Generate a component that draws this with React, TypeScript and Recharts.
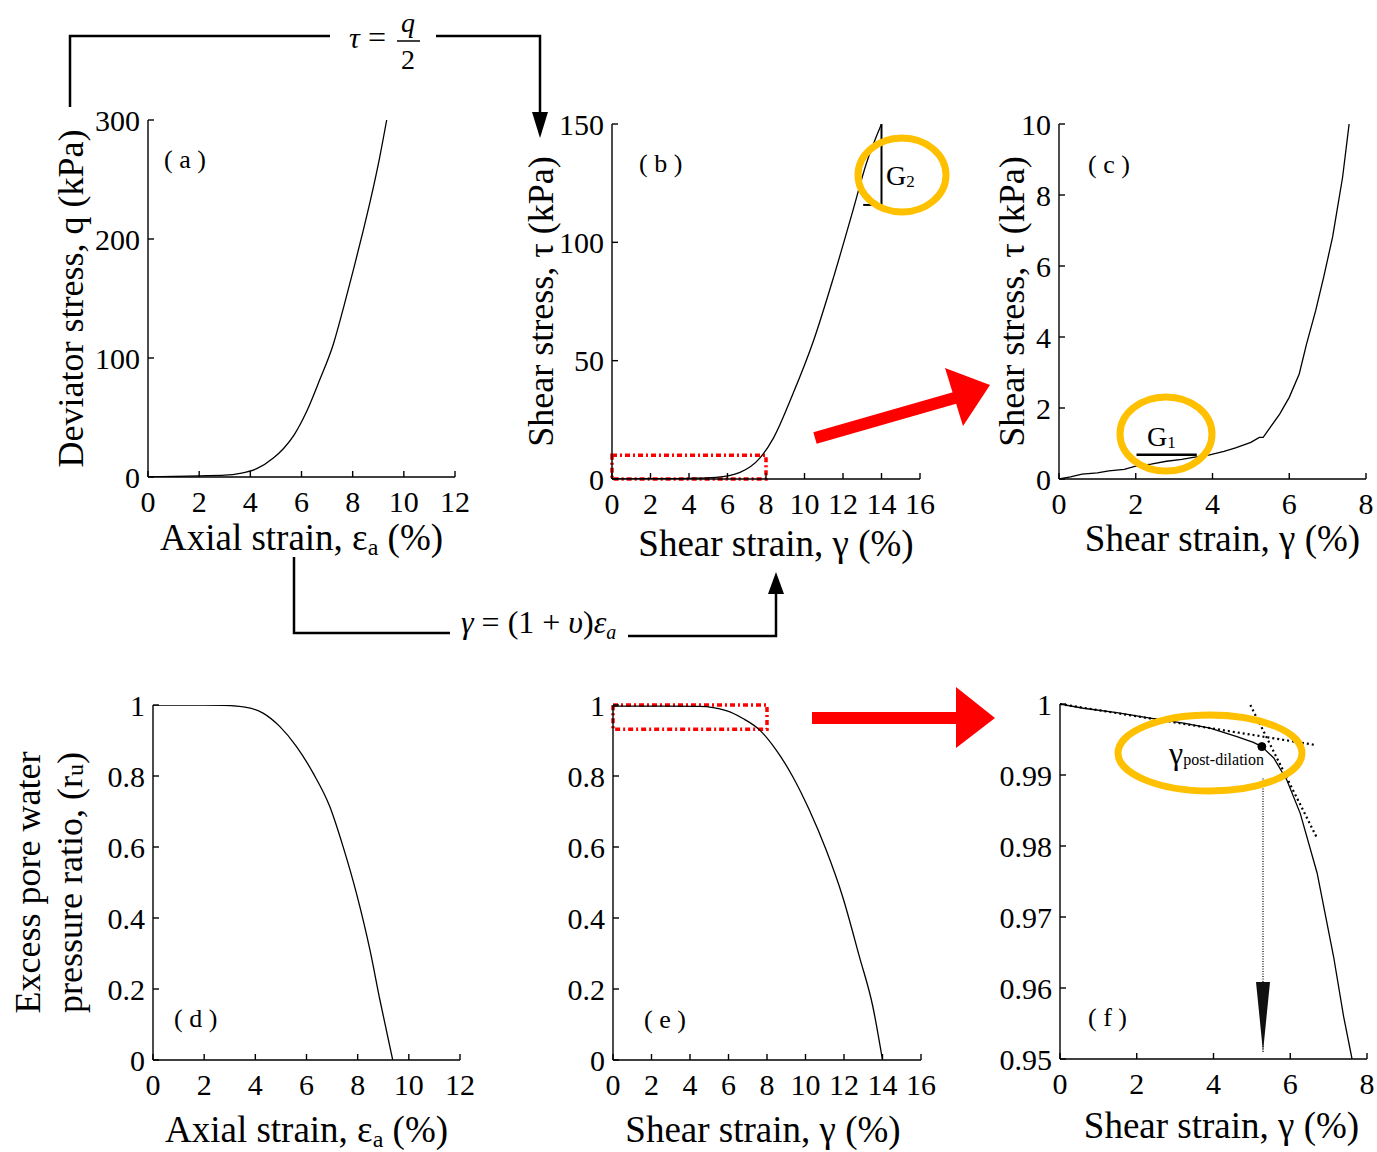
import React from "react";
import {
  Line,
  LineChart,
  ReferenceArea,
  ReferenceDot,
  ReferenceLine,
  XAxis,
  YAxis,
} from "recharts";

const SERIF = '"Liberation Serif", "Times New Roman", Times, serif';

// (a) deviator stress vs axial strain
const axialStrainA = [0, 1, 2, 3, 3.6, 4.25, 4.9, 5.3, 5.7, 6.2, 6.7, 7.25, 7.65, 8.05, 8.4, 8.7, 9.05, 9.33];
const deviatorStressA = [0, 0.5, 1, 1.5, 3, 7, 16, 24, 35, 55, 81, 112, 143, 176, 206, 233, 268, 300];

// (b) shear stress vs shear strain
const shearStrainB = [0, 2, 4, 5.4, 6.65, 7.7, 8.4, 9.4, 10.45, 11.5, 12.5, 13.2, 14];
const shearStressB = [0, 0.1, 0.3, 0.7, 2.8, 9, 17.5, 36, 58, 85, 113, 133, 150];

// (c) zoom of the start of (b)
const shearStrainC = [0, 0.3, 0.6, 1.0, 1.3, 1.7, 2.0, 2.4, 2.8, 3.2, 3.5, 3.9, 4.3, 4.6, 5.0, 5.22, 5.32, 5.5, 5.75, 6.0, 6.26, 6.45, 6.69, 6.9, 7.13, 7.39, 7.56];
const shearStressC = [0, 0.06, 0.14, 0.17, 0.23, 0.27, 0.36, 0.42, 0.5, 0.55, 0.61, 0.67, 0.78, 0.88, 1.03, 1.17, 1.17, 1.45, 1.83, 2.3, 2.96, 3.8, 4.75, 5.7, 6.82, 8.5, 10];

// (d) pore pressure ratio vs axial strain
const axialStrainD = [0, 1, 2, 2.75, 3.65, 4.3, 4.96, 5.61, 6.26, 6.91, 7.43, 7.95, 8.48, 8.87, 9.37];
const poreRatioD = [1, 1, 1, 0.999, 0.9935, 0.977, 0.939, 0.883, 0.808, 0.714, 0.601, 0.47, 0.31, 0.169, 0];

// (e) pore pressure ratio vs shear strain
const shearStrainE = [0, 2, 4.5, 5.88, 6.75, 7.61, 8.48, 9.34, 10.2, 11.07, 11.93, 12.8, 13.5, 14.0];
const poreRatioE = [0.997, 0.997, 0.996, 0.984, 0.962, 0.93, 0.873, 0.798, 0.704, 0.592, 0.46, 0.291, 0.15, 0];

// (f) zoom of the start of (e)
const shearStrainF = [0, 0.61, 1.48, 2.35, 3.22, 3.91, 4.61, 5.04, 5.26, 5.57, 5.91, 6.26, 6.7, 7.13, 7.39, 7.61];
const poreRatioF = [1.0, 0.9994, 0.9988, 0.998, 0.9973, 0.9966, 0.9954, 0.9946, 0.994, 0.9924, 0.9893, 0.9846, 0.9762, 0.9644, 0.956, 0.95];

// tick labels
const strainTicks12 = [0, 2, 4, 6, 8, 10, 12];
const strainTicks16 = [0, 2, 4, 6, 8, 10, 12, 14, 16];
const strainTicks8 = [0, 2, 4, 6, 8];
const qTicks = [0, 100, 200, 300];
const tauTicks = [0, 50, 100, 150];
const tauTicksZoom = [0, 2, 4, 6, 8, 10];
const ruTicks = [0, 0.2, 0.4, 0.6, 0.8, 1];
const ruTicksZoom = [0.95, 0.96, 0.97, 0.98, 0.99, 1];

// annotation values (data units)
const g2Strain = [13.05, 14];
const g2Stress = [115.8, 150];
const g1Strain = [2.02, 3.59];
const g1Stress = 0.68;
const tangentEarly = [{ x: 0, y: 1 }, { x: 6.65, y: 0.99423 }];
const tangentLate = [{ x: 4.96, y: 0.99986 }, { x: 6.7, y: 0.9811 }];
const postDilation = { x: 5.26, y: 0.994 };
const dropLine = { x: 5.29, top: 0.9895, bottom: 0.951 };

type Plot = { left: number; top: number; right: number; bottom: number };

const XTitle = ({ viewBox, dx, dy, children }: any) => (
  <text
    x={viewBox.x + viewBox.width / 2 + dx}
    y={viewBox.y + dy}
    textAnchor="middle"
    fontSize={37}
    fontFamily={SERIF}
    fill="#000"
  >
    {children}
  </text>
);

const YTitle = ({ viewBox, lines }: any) => {
  const edge = viewBox.x + viewBox.width;
  const cy = viewBox.y + viewBox.height / 2;
  return (
    <g>
      {lines.map((l: any, i: number) => (
        <text
          key={i}
          x={edge - l.off}
          y={cy}
          transform={`rotate(-90 ${edge - l.off} ${cy})`}
          textAnchor="middle"
          dominantBaseline="central"
          fontSize={36}
          fontFamily={SERIF}
          fill="#000"
        >
          {l.text}
        </text>
      ))}
    </g>
  );
};

const Panel = ({
  plot,
  yAxisWidth = 100,
  xDomain,
  yDomain,
  xTicks,
  yTicks,
  xs,
  ys,
  curve = "monotone",
  xTitle,
  xTitleDx = 0,
  xTitleDy,
  yLines,
  children,
}: {
  plot: Plot;
  yAxisWidth?: number;
  xDomain: [number, number];
  yDomain: [number, number];
  xTicks: number[];
  yTicks: number[];
  xs: number[];
  ys: number[];
  curve?: "monotone" | "linear";
  xTitle: React.ReactNode;
  xTitleDx?: number;
  xTitleDy: number;
  yLines?: { text: React.ReactNode; off: number }[];
  children?: React.ReactNode;
}) => {
  const mt = 25;
  const mr = 24;
  const xh = 92;
  const left = plot.left - yAxisWidth;
  const top = plot.top - mt;
  const width = plot.right + mr - left;
  const height = plot.bottom + xh - top;
  const data = xs.map((x, i) => ({ x, y: ys[i] }));
  const axisLine = { stroke: "#000", strokeWidth: 1.4 };
  const tick = { fill: "#000", fontSize: 30, fontFamily: SERIF };
  return (
    <div style={{ position: "absolute", left, top }}>
      <LineChart
        width={width}
        height={height}
        data={data}
        margin={{ top: mt, right: mr, bottom: 0, left: 0 }}
      >
        <XAxis
          type="number"
          dataKey="x"
          domain={xDomain}
          ticks={xTicks}
          interval={0}
          allowDataOverflow
          height={xh}
          axisLine={axisLine}
          tickLine={axisLine}
          tickSize={-6}
          tickMargin={20}
          tick={tick}
          label={{
            content: (p: any) => (
              <XTitle viewBox={p.viewBox} dx={xTitleDx} dy={xTitleDy}>
                {xTitle}
              </XTitle>
            ),
          }}
        />
        <XAxis
          xAxisId="top"
          orientation="top"
          type="number"
          domain={xDomain}
          ticks={xTicks}
          interval={0}
          height={0}
          axisLine={axisLine}
          tickLine={axisLine}
          tickSize={-6}
          tick={false}
        />
        <YAxis
          type="number"
          domain={yDomain}
          ticks={yTicks}
          interval={0}
          allowDataOverflow
          width={yAxisWidth}
          axisLine={axisLine}
          tickLine={axisLine}
          tickSize={-6}
          tickMargin={14}
          tick={tick}
          label={
            yLines
              ? { content: (p: any) => <YTitle viewBox={p.viewBox} lines={yLines} /> }
              : undefined
          }
        />
        <YAxis
          yAxisId="right"
          orientation="right"
          type="number"
          domain={yDomain}
          ticks={yTicks}
          interval={0}
          width={0}
          axisLine={axisLine}
          tickLine={axisLine}
          tickSize={-6}
          tick={false}
        />
        {children}
        <Line
          type={curve}
          dataKey="y"
          stroke="#000"
          strokeWidth={1.3}
          dot={false}
          isAnimationActive={false}
        />
      </LineChart>
    </div>
  );
};

const ArrowDown = ({ cx, cy }: any) => (
  <polygon points={`${cx},${cy} ${cx - 7},${cy - 70} ${cx + 7},${cy - 70}`} fill="#111" />
);

const axialTitle = (
  <>
    Axial strain, ε<tspan fontSize={24} dy={5}>a</tspan>
    <tspan dy={-5}> (%)</tspan>
  </>
);
const shearTitle = "Shear strain, γ (%)";
const redBox = { fill: "none", stroke: "#ff0000", strokeWidth: 3.5, strokeDasharray: "5 3 2 3" };

const PanelTag = ({ x, y, t }: { x: number; y: number; t: string }) => (
  <text x={x} y={y} fontSize={26} fontFamily={SERIF} fill="#000">
    {`( ${t} )`}
  </text>
);

const Overlay = () => (
  <svg
    width={1377}
    height={1152}
    style={{ position: "absolute", left: 0, top: 0, pointerEvents: "none" }}
    fontFamily={SERIF}
  >
    {/* tau = q/2 connector */}
    <polyline points="70,107 70,36 330,36" fill="none" stroke="#000" strokeWidth={2.5} />
    <polyline points="436,36 540,36 540,114" fill="none" stroke="#000" strokeWidth={2.5} />
    <polygon points="532,112 548,112 540,138" fill="#000" />
    <text x={349} y={48} fontSize={30} fontStyle="italic">τ</text>
    <text x={368} y={48} fontSize={32}>=</text>
    <text x={408} y={32} fontSize={28} fontStyle="italic" textAnchor="middle">q</text>
    <line x1={397} y1={41} x2={420} y2={41} stroke="#000" strokeWidth={1.5} />
    <text x={408} y={69} fontSize={28} textAnchor="middle">2</text>

    {/* gamma = (1+v) eps_a connector */}
    <polyline points="294,557 294,633 450,633" fill="none" stroke="#000" strokeWidth={2.5} />
    <polyline points="628,636 776,636 776,594" fill="none" stroke="#000" strokeWidth={2.5} />
    <polygon points="768,594 784,594 776,572" fill="#000" />
    <text x={461} y={633} fontSize={32}>
      <tspan fontStyle="italic">γ</tspan>
      <tspan> = (1 + </tspan>
      <tspan fontStyle="italic">υ</tspan>
      <tspan>)</tspan>
      <tspan fontStyle="italic">ε</tspan>
      <tspan fontStyle="italic" fontSize={20} dy={6}>a</tspan>
    </text>

    {/* red arrows */}
    <line x1={815} y1={438} x2={958} y2={397} stroke="#ff0000" strokeWidth={12} />
    <polygon points="945,368 990,385 963,426" fill="#ff0000" />
    <rect x={812} y={712} width={146} height={12} fill="#ff0000" />
    <polygon points="956,687 995,718 956,748" fill="#ff0000" />

    {/* highlight rings */}
    <ellipse cx={902} cy={175} rx={44} ry={37} fill="none" stroke="#ffc000" strokeWidth={7} />
    <ellipse cx={1166} cy={434} rx={46} ry={37} fill="none" stroke="#ffc000" strokeWidth={7} />
    <ellipse cx={1210} cy={753} rx={92} ry={38} fill="none" stroke="#ffc000" strokeWidth={7} />

    <text x={886} y={185} fontSize={28}>
      G<tspan fontSize={17} dy={2}>2</tspan>
    </text>
    <text x={1147} y={446} fontSize={28}>
      G<tspan fontSize={17} dy={2}>1</tspan>
    </text>
    <text x={1169} y={764} fontSize={32}>
      γ<tspan fontSize={16} dy={1}>post-dilation</tspan>
    </text>

    <PanelTag x={164} y={168} t="a" />
    <PanelTag x={639} y={172} t="b" />
    <PanelTag x={1088} y={173} t="c" />
    <PanelTag x={174} y={1027} t="d" />
    <PanelTag x={644} y={1028} t="e" />
    <PanelTag x={1088} y={1026} t="f" />
  </svg>
);

export default function App() {
  return (
    <div
      style={{
        position: "absolute",
        left: 0,
        top: 0,
        width: 1377,
        height: 1152,
        overflow: "hidden",
        background: "#fff",
        fontFamily: SERIF,
      }}
    >
      <Panel
        plot={{ left: 148, top: 120, right: 455, bottom: 477 }}
        xDomain={[0, 12]}
        yDomain={[0, 300]}
        xTicks={strainTicks12}
        yTicks={qTicks}
        xs={axialStrainA}
        ys={deviatorStressA}
        xTitle={axialTitle}
        xTitleDy={73}
        yLines={[{ text: "Deviator stress, q (kPa)", off: 77 }]}
      />
      <Panel
        plot={{ left: 612, top: 124, right: 920, bottom: 479 }}
        xDomain={[0, 16]}
        yDomain={[0, 150]}
        xTicks={strainTicks16}
        yTicks={tauTicks}
        xs={shearStrainB}
        ys={shearStressB}
        xTitle={shearTitle}
        xTitleDx={10}
        xTitleDy={77}
        yLines={[{ text: "Shear stress, τ (kPa)", off: 71 }]}
      >
        <ReferenceArea x1={0} x2={8} y1={0} y2={10} {...redBox} />
        <ReferenceLine
          segment={[{ x: g2Strain[1], y: g2Stress[1] }, { x: g2Strain[1], y: g2Stress[0] }]}
          stroke="#000"
          strokeWidth={2}
        />
        <ReferenceLine
          segment={[{ x: g2Strain[0], y: g2Stress[0] }, { x: g2Strain[1], y: g2Stress[0] }]}
          stroke="#000"
          strokeWidth={2}
        />
      </Panel>
      <Panel
        plot={{ left: 1059, top: 124, right: 1366, bottom: 479 }}
        xDomain={[0, 8]}
        yDomain={[0, 10]}
        xTicks={strainTicks8}
        yTicks={tauTicksZoom}
        xs={shearStrainC}
        ys={shearStressC}
        curve="linear"
        xTitle={shearTitle}
        xTitleDx={10}
        xTitleDy={72}
        yLines={[{ text: "Shear stress, τ (kPa)", off: 47 }]}
      >
        <ReferenceLine
          segment={[{ x: g1Strain[0], y: g1Stress }, { x: g1Strain[1], y: g1Stress }]}
          stroke="#000"
          strokeWidth={2.5}
        />
      </Panel>
      <Panel
        plot={{ left: 153, top: 705, right: 460, bottom: 1060 }}
        yAxisWidth={150}
        xDomain={[0, 12]}
        yDomain={[0, 1]}
        xTicks={strainTicks12}
        yTicks={ruTicks}
        xs={axialStrainD}
        ys={poreRatioD}
        xTitle={axialTitle}
        xTitleDy={82}
        yLines={[
          { text: "Excess pore water", off: 125 },
          {
            text: (
              <>
                pressure ratio, (r<tspan fontSize={24} dy={5}>u</tspan>
                <tspan dy={-5}>)</tspan>
              </>
            ),
            off: 83,
          },
        ]}
      />
      <Panel
        plot={{ left: 613, top: 705, right: 921, bottom: 1060 }}
        xDomain={[0, 16]}
        yDomain={[0, 1]}
        xTicks={strainTicks16}
        yTicks={ruTicks}
        xs={shearStrainE}
        ys={poreRatioE}
        xTitle={shearTitle}
        xTitleDx={-4}
        xTitleDy={82}
      >
        <ReferenceArea x1={0} x2={8} y1={0.932} y2={1} {...redBox} />
      </Panel>
      <Panel
        plot={{ left: 1060, top: 704, right: 1367, bottom: 1059 }}
        xDomain={[0, 8]}
        yDomain={[0.95, 1]}
        xTicks={strainTicks8}
        yTicks={ruTicksZoom}
        xs={shearStrainF}
        ys={poreRatioF}
        curve="linear"
        xTitle={shearTitle}
        xTitleDx={8}
        xTitleDy={79}
      >
        <ReferenceLine segment={tangentEarly} stroke="#000" strokeWidth={2.2} strokeDasharray="2 3" />
        <ReferenceLine segment={tangentLate} stroke="#000" strokeWidth={2.2} strokeDasharray="2 3" />
        <ReferenceLine
          segment={[{ x: dropLine.x, y: dropLine.top }, { x: dropLine.x, y: dropLine.bottom }]}
          stroke="#000"
          strokeWidth={1.2}
          strokeDasharray="1 1.5"
        />
        <ReferenceDot x={dropLine.x} y={dropLine.bottom} r={1} shape={(p: any) => <ArrowDown {...p} />} />
        <ReferenceDot x={postDilation.x} y={postDilation.y} r={4} fill="#000" stroke="#000" />
      </Panel>
      <Overlay />
    </div>
  );
}
